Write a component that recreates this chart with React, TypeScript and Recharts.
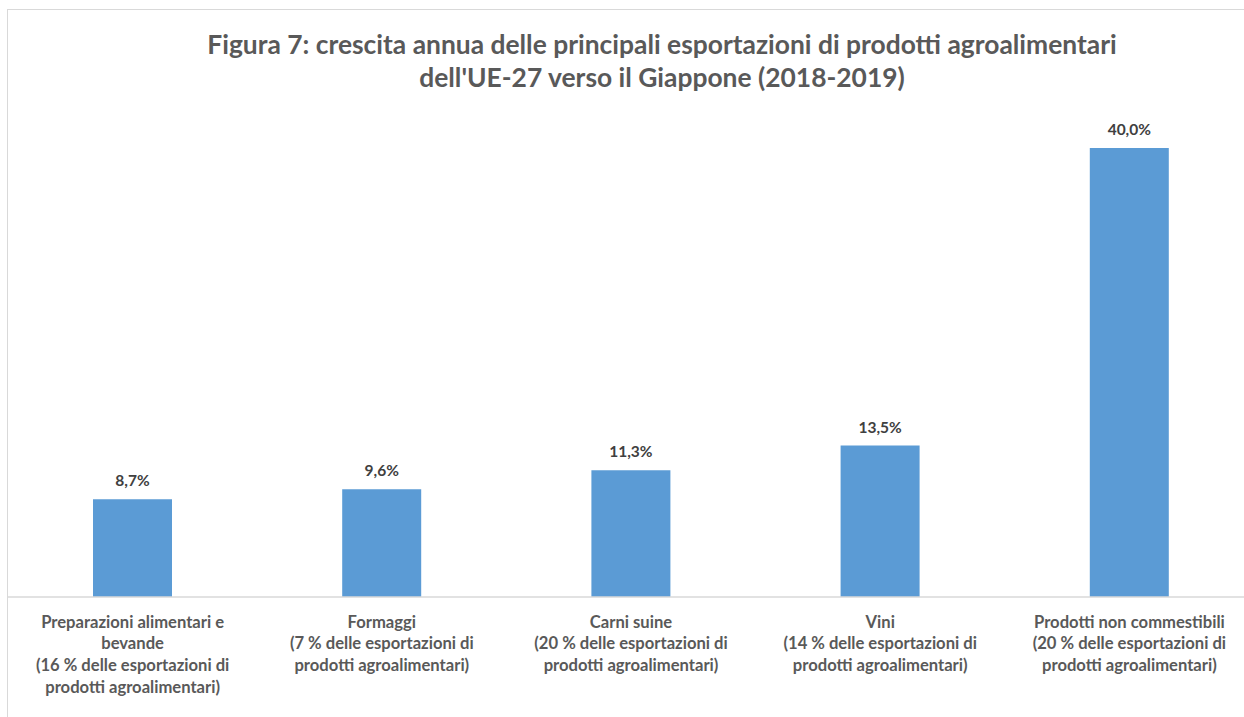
import React from "react";
import { BarChart, Bar, XAxis, YAxis, LabelList } from "recharts";

const categories = [
  "Preparazioni alimentari e bevande",
  "Formaggi",
  "Carni suine",
  "Vini",
  "Prodotti non commestibili",
];
const growth = [8.7, 9.6, 11.3, 13.5, 40.0];
const tickLines: string[][] = [
  ["Preparazioni alimentari e", "bevande", "(16 % delle esportazioni di", "prodotti agroalimentari)"],
  ["Formaggi", "(7 % delle esportazioni di", "prodotti agroalimentari)"],
  ["Carni suine", "(20 % delle esportazioni di", "prodotti agroalimentari)"],
  ["Vini", "(14 % delle esportazioni di", "prodotti agroalimentari)"],
  ["Prodotti non commestibili", "(20 % delle esportazioni di", "prodotti agroalimentari)"],
];
const titleLines = [
  "Figura 7: crescita annua delle principali esportazioni di prodotti agroalimentari",
  "dell'UE-27 verso il Giappone (2018-2019)",
];

const data = categories.map((c, i) => ({ name: c, value: growth[i], idx: i }));

const FONT = "Lato, 'Open Sans', sans-serif";

const Tick = (props: any) => {
  const { x, y, index } = props;
  const lines = tickLines[index] || [];
  return (
    <text x={x} y={y} textAnchor="middle" fill="#595959" fontFamily={FONT} fontWeight={700} fontSize={16.6}>
      {lines.map((l, i) => (
        <tspan key={i} x={x} y={y + 22.5 + i * 21.7}>
          {l}
        </tspan>
      ))}
    </text>
  );
};

const ValueLabel = (props: any) => {
  const { x, y, width, value } = props;
  return (
    <text x={x + width / 2} y={y - 13} textAnchor="middle" fill="#404040" fontFamily={FONT} fontWeight={700} fontSize={15.5}>
      {Number(value).toFixed(1).replace(".", ",") + "%"}
    </text>
  );
};

export default function App() {
  return (
    <div style={{ position: "absolute", left: 0, top: 0, width: 1244, height: 717, overflow: "hidden", background: "#fff" }}>
      <div
        style={{
          position: "absolute",
          left: 7,
          top: 9,
          width: 1300,
          height: 760,
          border: "1px solid #d9d9d9",
          background: "#fff",
        }}
      >
        <div
          style={{
            position: "absolute",
            left: 662 - 8 - 600,
            width: 1200,
            top: 18,
            textAlign: "center",
            fontFamily: FONT,
            fontWeight: 700,
            fontSize: 26.4,
            lineHeight: "33px",
            color: "#595959",
            whiteSpace: "nowrap",
          }}
        >
          {titleLines.map((t, i) => (
            <div key={i}>{t}</div>
          ))}
        </div>
        <BarChart
          width={1246}
          height={707}
          data={data}
          margin={{ top: 82, right: 0, bottom: 0, left: 0 }}
          barCategoryGap="34%"
        >
          <XAxis
            dataKey="name"
            interval={0}
            height={120}
            tickLine={false}
            axisLine={{ stroke: "#d9d9d9", strokeWidth: 1.5 }}
            tick={<Tick />}
          />
          <YAxis hide domain={[0, 45]} />
          <Bar dataKey="value" fill="#5B9BD5" barSize={79} isAnimationActive={false}>
            <LabelList dataKey="value" content={<ValueLabel />} />
          </Bar>
        </BarChart>
      </div>
    </div>
  );
}
